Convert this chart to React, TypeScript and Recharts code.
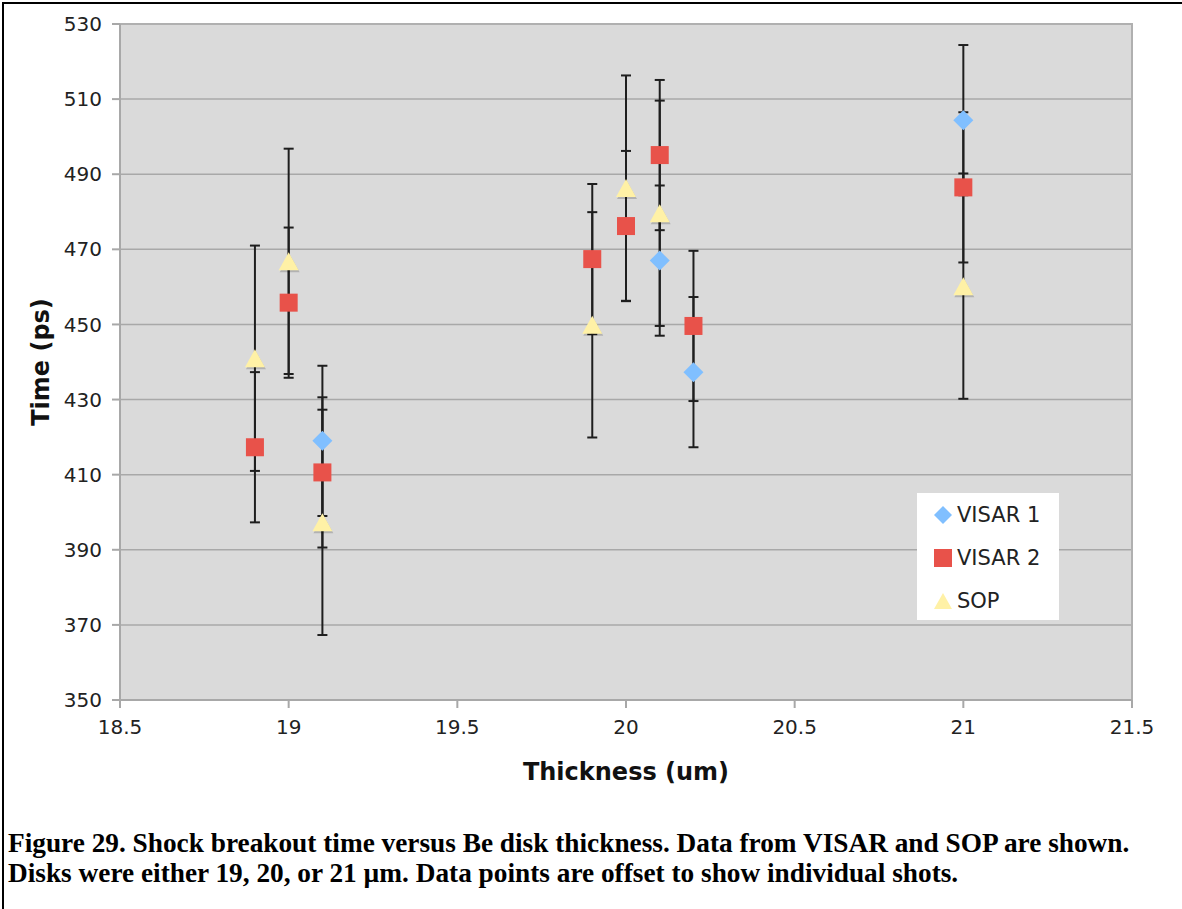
import React from 'react';
import {
  ScatterChart,
  Scatter,
  XAxis,
  YAxis,
  CartesianGrid,
  ErrorBar,
  ReferenceArea,
  Label,
} from 'recharts';

// shot thickness (offset) and breakout time
const visar1X = [19.1, 20.1, 20.2, 21.0];
const visar1Y = [419, 467, 437.3, 504.4];
const visar1Err = [20, 20, 20, 20];

const visar2X = [18.9, 19.0, 19.1, 19.9, 20.0, 20.1, 20.2, 21.0];
const visar2Y = [417.3, 455.8, 410.6, 467.4, 476.2, 495.1, 449.6, 486.5];
const visar2Err = [20, 20, 20, 20, 20, 20, 20, 20];

const sopX = [18.9, 19.0, 19.1, 19.9, 20.0, 20.1, 21.0];
const sopY = [441, 466.8, 397.3, 449.9, 486.3, 479.6, 460.2];
const sopErr = [30, 30, 30, 30, 30, 30, 30];

const xTicks = [18.5, 19, 19.5, 20, 20.5, 21, 21.5];
const yTicks = [350, 370, 390, 410, 430, 450, 470, 490, 510, 530];

const caption = [
  'Figure 29. Shock breakout time versus Be disk thickness. Data from VISAR and SOP are shown.',
  'Disks were either 19, 20, or 21 \u00b5m. Data points are offset to show individual shots.',
];

const toRows = (xs: number[], ys: number[], errs: number[]) =>
  xs.map((x, i) => ({ x, y: ys[i], err: errs[i] }));

const visar1 = toRows(visar1X, visar1Y, visar1Err);
const visar2 = toRows(visar2X, visar2Y, visar2Err);
const sop = toRows(sopX, sopY, sopErr);

const BLUE = '#80bfff';
const RED = '#e8524a';
const YELLOW = '#fff1a6';

const Diamond = (p: any) => (
  <polygon
    points={`${p.cx},${p.cy - 10} ${p.cx + 10},${p.cy} ${p.cx},${p.cy + 10} ${p.cx - 10},${p.cy}`}
    fill={BLUE}
  />
);

const Square = (p: any) => <rect x={p.cx - 9} y={p.cy - 9} width={18} height={18} fill={RED} />;

const Triangle = (p: any) => (
  <g>
    <polygon
      points={`${p.cx + 1},${p.cy - 7} ${p.cx + 11},${p.cy + 11} ${p.cx - 9},${p.cy + 11}`}
      fill="rgba(0,0,0,0.18)"
    />
    <polygon
      points={`${p.cx},${p.cy - 9} ${p.cx + 10},${p.cy + 9} ${p.cx - 10},${p.cy + 9}`}
      fill={YELLOW}
    />
  </g>
);

const Nothing = () => <g />;

const legendItems = [
  { name: 'VISAR 1', icon: <polygon points="9,0 18,9 9,18 0,9" fill={BLUE} /> },
  { name: 'VISAR 2', icon: <rect x={0} y={0} width={18} height={18} fill={RED} /> },
  { name: 'SOP', icon: <polygon points="9,1 18,17 0,17" fill={YELLOW} /> },
];

const axisFont = { fontFamily: 'DejaVu Sans, Verdana, sans-serif', fontSize: 20, fill: '#222' };
const titleStyle = { fontFamily: 'DejaVu Sans, Verdana, sans-serif', fontWeight: 'bold', fontSize: 24, fill: '#111' };

export default function App() {
  return (
    <div style={{ position: 'absolute', left: 0, top: 0, width: 1182, height: 909, background: '#fff', overflow: 'hidden' }}>
      <div
        style={{
          position: 'absolute',
          left: 2,
          top: 2,
          width: 1300,
          height: 1000,
          borderTop: '2px solid #000',
          borderLeft: '2px solid #000',
        }}
      />
      <div style={{ position: 'absolute', left: 0, top: 0 }}>
        <ScatterChart width={1182} height={800} margin={{ top: 24, right: 50, left: 40, bottom: 10 }}>
          <CartesianGrid vertical={false} fill="#dadada" stroke="#a8a8a8" strokeWidth={1.5} />
          <ReferenceArea x1={18.5} x2={21.5} y1={350} y2={530} fill="none" stroke="#b0b0b0" strokeWidth={2} />
          <XAxis
            type="number"
            dataKey="x"
            domain={[18.5, 21.5]}
            ticks={xTicks}
            height={90}
            tickSize={8}
            tickMargin={12}
            stroke="#a8a8a8"
            strokeWidth={2}
            tick={axisFont}
            allowDataOverflow
          >
            <Label
              content={({ viewBox }: any) => (
                <text
                  x={viewBox.x + viewBox.width / 2}
                  y={772}
                  textAnchor="middle"
                  dominantBaseline="central"
                  style={titleStyle}
                >
                  Thickness (um)
                </text>
              )}
            />
          </XAxis>
          <YAxis
            type="number"
            dataKey="y"
            domain={[350, 530]}
            ticks={yTicks}
            width={80}
            tickSize={8}
            tickMargin={10}
            stroke="#a8a8a8"
            strokeWidth={2}
            tick={axisFont}
            allowDataOverflow
          >
            <Label
              content={() => (
                <text
                  x={41}
                  y={362}
                  textAnchor="middle"
                  dominantBaseline="central"
                  transform="rotate(-90 41 362)"
                  style={titleStyle}
                >
                  Time (ps)
                </text>
              )}
            />
          </YAxis>
          {/* error bars first so every marker sits on top */}
          <Scatter data={visar1} shape={Nothing} isAnimationActive={false} legendType="none">
            <ErrorBar dataKey="err" direction="y" width={5} stroke="#1e1e1e" strokeWidth={2} isAnimationActive={false} />
          </Scatter>
          <Scatter data={visar2} shape={Nothing} isAnimationActive={false} legendType="none">
            <ErrorBar dataKey="err" direction="y" width={5} stroke="#1e1e1e" strokeWidth={2} isAnimationActive={false} />
          </Scatter>
          <Scatter data={sop} shape={Nothing} isAnimationActive={false} legendType="none">
            <ErrorBar dataKey="err" direction="y" width={5} stroke="#1e1e1e" strokeWidth={2} isAnimationActive={false} />
          </Scatter>
          <Scatter name="VISAR 1" data={visar1} shape={Diamond} isAnimationActive={false} />
          <Scatter name="VISAR 2" data={visar2} shape={Square} isAnimationActive={false} />
          <Scatter name="SOP" data={sop} shape={Triangle} isAnimationActive={false} />
        </ScatterChart>
      </div>
      <div
        style={{
          position: 'absolute',
          left: 917,
          top: 493,
          width: 142,
          height: 127,
          background: '#fff',
          boxSizing: 'border-box',
          paddingTop: 0,
          paddingLeft: 17,
        }}
      >
        {legendItems.map((it) => (
          <div key={it.name} style={{ display: 'flex', alignItems: 'center', height: 43 }}>
            <svg width={18} height={18} style={{ marginRight: 5 }}>
              {it.icon}
            </svg>
            <span style={{ fontFamily: 'DejaVu Sans, Verdana, sans-serif', fontSize: 21, color: '#222' }}>{it.name}</span>
          </div>
        ))}
      </div>
      <div
        style={{
          position: 'absolute',
          left: 8,
          top: 828,
          fontFamily: '"Liberation Serif", "Times New Roman", serif',
          fontWeight: 'bold',
          fontSize: 27.3,
          lineHeight: '30px',
          color: '#000',
          whiteSpace: 'nowrap',
        }}
      >
        {caption.map((c) => (
          <div key={c}>{c}</div>
        ))}
      </div>
    </div>
  );
}
